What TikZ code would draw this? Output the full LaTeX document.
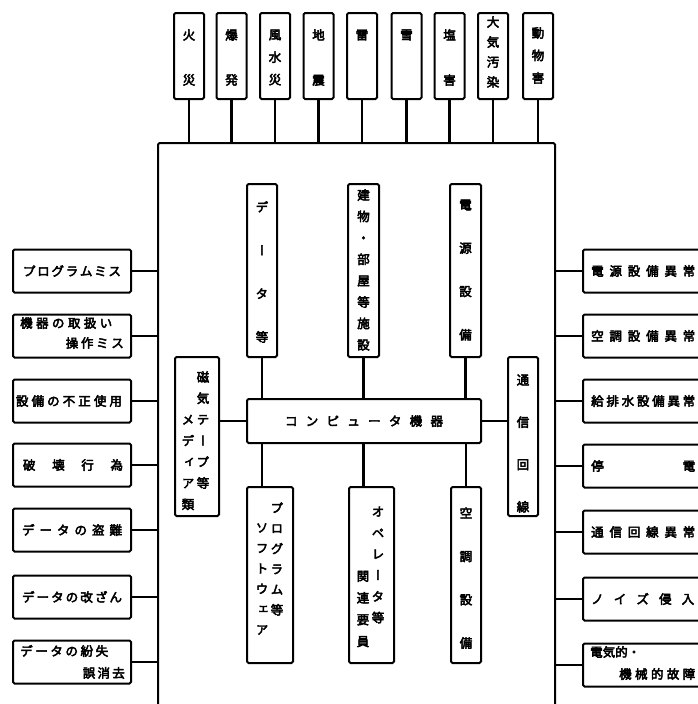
\documentclass[tikz,border=0pt]{standalone}
\usepackage{fontspec}
\newfontfamily\jp{Noto Sans CJK JP}[FakeBold=3.8]
\newfontfamily\jpv{Noto Sans CJK JP}[FakeBold=3.8, RawFeature={+vert}]
\tikzset{
  box/.style={draw, line width=2pt, rounded corners=1.5pt, inner sep=0pt},
  conn/.style={line width=2.2pt},
  htxt/.style={font=\jp\fontsize{12.5}{14}\selectfont, inner sep=0pt},
  vtxt/.style={font=\jpv\fontsize{12.5}{#1}\selectfont, align=center, inner sep=0pt},
  topbox/.style={box, minimum width=30pt, minimum height=86pt},
  sidebox/.style={box, minimum width=118pt, minimum height=43pt},
  rbox/.style={box, minimum width=132pt, minimum height=43pt}
}
\begin{document}
\begin{tikzpicture}[x=1pt,y=-1pt]
\useasboundingbox (0,0) rectangle (698,704);
\clip (0,0) rectangle (698,704);
% main frame (open at bottom)
\node[box, minimum width=397pt, minimum height=580pt] (frame) at (356.5,433) {};

% top boxes
\node[topbox] (t1) at (189,56) {};
\node[vtxt=45] (t1t) at (189,57.5) {火\\災};
\node[topbox] (t2) at (231.5,56) {};
\node[vtxt=45] (t2t) at (231.5,57.5) {爆\\発};
\node[topbox] (t3) at (275,56) {};
\node[vtxt=22.5] (t3t) at (275,57.5) {風\\水\\災};
\node[topbox] (t4) at (318.5,56) {};
\node[vtxt=45] (t4t) at (318.5,57.5) {地\\震};
\node[topbox] (t5) at (362,56) {};
\node[vtxt=12] (t5t) at (362,35) {雷};
\node[topbox] (t6) at (406.5,56) {};
\node[vtxt=12] (t6t) at (406.5,35) {雪};
\node[topbox] (t7) at (449.5,56) {};
\node[vtxt=45] (t7t) at (449.5,57.5) {塩\\害};
\node[topbox] (t8) at (493,56) {};
\node[vtxt=20] (t8t) at (493,52) {大\\気\\汚\\染};
\node[topbox] (t9) at (538,56) {};
\node[vtxt=22.5] (t9t) at (538,55.5) {動\\物\\害};
\foreach \n in {t1,t2,t3,t4,t5,t6,t7,t8,t9}
  \draw[conn] (\n.south) -- (\n.south |- frame.north);

% left boxes
\node[sidebox] (l1) at (72,271) {};
\node[htxt] (l1t) at (72,271) {\makebox[98pt][s]{プ\hfill ロ\hfill グ\hfill ラ\hfill ム\hfill ミ\hfill ス}};
\node[sidebox] (l2) at (72,336) {};
\node[htxt, anchor=west] (l2a) at (20,323) {\makebox[92pt][s]{機\hfill 器\hfill の\hfill 取\hfill 扱\hfill い}};
\node[htxt, anchor=east] (l2b) at (124,343) {\makebox[58pt][s]{操\hfill 作\hfill ミ\hfill ス}};
\node[sidebox] (l3) at (72,401) {};
\node[htxt] (l3t) at (69,401) {\makebox[106pt][s]{設\hfill 備\hfill の\hfill 不\hfill 正\hfill 使\hfill 用}};
\node[sidebox] (l4) at (72,465) {};
\node[htxt] (l4t) at (73,465) {\makebox[100pt][s]{破\hfill 壊\hfill 行\hfill 為}};
\node[sidebox] (l5) at (72,530) {};
\node[htxt] (l5t) at (72,530) {\makebox[100pt][s]{デ\hfill ー\hfill タ\hfill の\hfill 盗\hfill 難}};
\node[sidebox] (l6) at (72,597) {};
\node[htxt] (l6t) at (72,597) {\makebox[100pt][s]{デ\hfill ー\hfill タ\hfill の\hfill 改\hfill ざ\hfill ん}};
\node[sidebox] (l7) at (72,662) {};
\node[htxt, anchor=west] (l7a) at (20,651) {\makebox[88pt][s]{デ\hfill ー\hfill タ\hfill の\hfill 紛\hfill 失}};
\node[htxt, anchor=east] (l7b) at (125,673) {\makebox[42pt][s]{誤\hfill 消\hfill 去}};
\foreach \n in {l1,l2,l3,l4,l5,l6,l7}
  \draw[conn] (\n.east) -- (\n.east -| frame.west);

% right boxes
\node[rbox] (r1) at (649,271) {};
\node[htxt, anchor=west] (r1t) at (591,271) {\makebox[104pt][s]{電\hfill 源\hfill 設\hfill 備\hfill 異\hfill 常}};
\node[rbox] (r2) at (649,336) {};
\node[htxt, anchor=west] (r2t) at (591,336) {\makebox[104pt][s]{空\hfill 調\hfill 設\hfill 備\hfill 異\hfill 常}};
\node[rbox] (r3) at (649,401) {};
\node[htxt, anchor=west] (r3t) at (591,401) {\makebox[104pt][s]{給\hfill 排\hfill 水\hfill 設\hfill 備\hfill 異\hfill 常}};
\node[rbox] (r4) at (649,466) {};
\node[htxt, anchor=west] (r4t) at (591,466) {\makebox[104pt][s]{停\hfill 電}};
\node[rbox] (r5) at (649,532) {};
\node[htxt, anchor=west] (r5t) at (591,532) {\makebox[104pt][s]{通\hfill 信\hfill 回\hfill 線\hfill 異\hfill 常}};
\node[rbox] (r6) at (649,599) {};
\node[htxt, anchor=west] (r6t) at (591,599) {\makebox[103pt][s]{ノ\hfill イ\hfill ズ\hfill 侵\hfill 入}};
\node[rbox] (r7) at (649,665) {};
\node[htxt, anchor=west] (r7a) at (590,652) {電気的・};
\node[htxt, anchor=west] (r7b) at (619,674) {\makebox[76pt][s]{機\hfill 械\hfill 的\hfill 故\hfill 障}};
\foreach \n in {r1,r2,r3,r4,r5,r6,r7}
  \draw[conn] (\n.west) -- (\n.west -| frame.east);

% central
\node[box, minimum width=30pt, minimum height=173pt] (data) at (262,270.5) {};
\node[vtxt=43.3] (datat) at (262,272) {デ\\ー\\タ\\等};
\node[box, minimum width=31pt, minimum height=173pt] (bldg) at (363.5,270.5) {};
\node[vtxt=21.4] (bldgt) at (363.5,270) {建\\物\\・\\部\\屋\\等\\施\\設};
\node[box, minimum width=31pt, minimum height=173pt] (power) at (465.5,270.5) {};
\node[vtxt=43.3] (powert) at (465.5,270) {電\\源\\設\\備};

\node[box, minimum width=234pt, minimum height=44pt] (comp) at (364,421) {};
\node[htxt] (compt) at (364,421) {\makebox[158pt][s]{コ\hfill ン\hfill ピ\hfill ュ\hfill ー\hfill タ\hfill 機\hfill 器}};

\node[box, minimum width=46pt, minimum height=176pt] (soft) at (270,575) {};
\node[vtxt=20.4] (softa) at (277,559) {プ\\ロ\\グ\\ラ\\ム\\等};
\node[vtxt=20.4] (softb) at (262,579) {ソ\\フ\\ト\\ウ\\ェ\\ア};
\node[box, minimum width=45pt, minimum height=176pt] (oper) at (371.5,575) {};
\node[vtxt=21.2] (opera) at (378,565) {オ\\ペ\\レ\\ー\\タ\\等};
\node[vtxt=21.8] (operb) at (363,609) {関\\連\\要\\員};
\node[box, minimum width=30pt, minimum height=176pt] (air) at (466,575) {};
\node[vtxt=43.3] (airt) at (466,578) {空\\調\\設\\備};

\node[box, minimum width=44pt, minimum height=159pt] (media) at (197,436.5) {};
\node[vtxt=21.2] (mediaa) at (203,430) {磁\\気\\テ\\ー\\プ\\等};
\node[vtxt=21.2] (mediab) at (188,462.5) {メ\\デ\\ィ\\ア\\類};
\node[box, minimum width=30pt, minimum height=159pt] (comm) at (523,436.5) {};
\node[vtxt=42.3] (commt) at (523,443.5) {通\\信\\回\\線};

% connectors to computer
\draw[conn] (data.south) -- (data.south |- comp.north);
\draw[conn] (bldg.south) -- (bldg.south |- comp.north);
\draw[conn] (power.south) -- (power.south |- comp.north);
\draw[conn] (comp.south -| data.south) -- (soft.north -| data.south);
\draw[conn] (comp.south -| bldg.south) -- (oper.north -| bldg.south);
\draw[conn] (comp.south -| air.north) -- (air.north);
\draw[conn] (comp.west) -- (comp.west -| media.east);
\draw[conn] (comp.east) -- (comp.east -| comm.west);
\end{tikzpicture}
\end{document}
